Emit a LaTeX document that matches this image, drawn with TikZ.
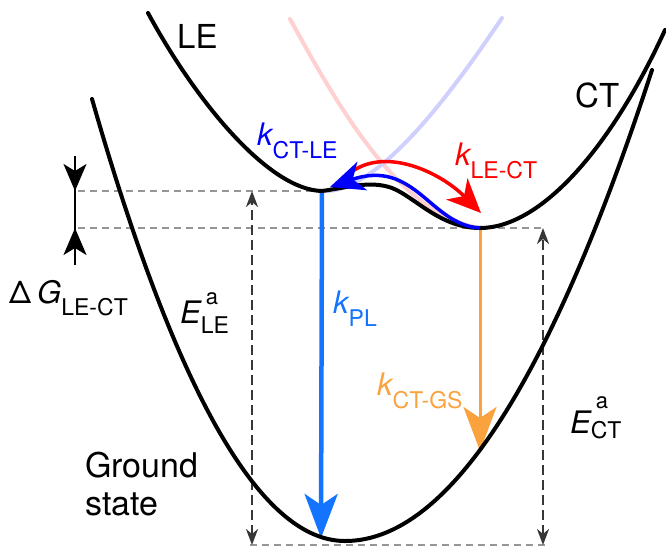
\documentclass[tikz,border=0pt]{standalone}
\usepackage{fontspec}
\setmainfont{TeX Gyre Heros}
\usetikzlibrary{arrows.meta}
\definecolor{plblue}{RGB}{20,115,255}
\definecolor{ctorange}{RGB}{250,162,62}
\definecolor{fpink}{RGB}{255,208,208}
\definecolor{fblue}{RGB}{208,208,255}
\definecolor{lgray}{RGB}{150,150,150}
\definecolor{dgray}{RGB}{55,55,55}
\newcommand\bigf{\fontsize{31}{37}\selectfont}
\newcommand\subf{\fontsize{23}{23}\selectfont}
\newcommand\supf{\fontsize{22}{22}\selectfont}
\newcommand\ksub[2]{{\bigf\itshape #1}\raisebox{-13pt}{\subf #2}}
\newcommand\esym[3]{{\bigf\itshape E}\rlap{\kern5pt\raisebox{#2}{\supf a}}\raisebox{#3}{\subf #1}}
\begin{document}
\begin{tikzpicture}[x=1pt,y=-1pt,
  blk/.style={line width=4pt, line cap=round},
  faint/.style={line width=4pt, line cap=round},
  guide/.style={lgray, line width=2.5pt, dash pattern=on 7pt off 5pt},
  energy/.style={dgray, line width=2.5pt, dash pattern=on 10pt off 5pt,
    arrows={Stealth[length=16pt,width=12pt,inset=5pt]-Stealth[length=16pt,width=12pt,inset=5pt]}},
  lbl/.style={inner sep=0pt, anchor=base west}]
\useasboundingbox (0,0) rectangle (666,547);
% key points
\coordinate (LEmin) at (322,191);
\coordinate (CTmin) at (480,228);
\coordinate (PLend) at (321,538);
\coordinate (GSend) at (480,451);
\coordinate (pinkTop) at (290,19);
\coordinate (fblueTop) at (502,18);
\coordinate (exTop) at (148,13);
\coordinate (exRight) at (665,30);
\coordinate (hump) at (392,188);
\coordinate (gLeftA) at (78,191);
\coordinate (gLeftB) at (78,228);
\coordinate (gRightB) at (545,228);
\coordinate (gBotL) at (250,545);
\coordinate (gBotR) at (545,545);
\coordinate (eLtop) at (252,191);
\coordinate (eLbot) at (252,545);
\coordinate (eRtop) at (543,228);
\coordinate (eRbot) at (543,545);
\coordinate (dGtop) at (75,156);
\coordinate (dGa) at (75,191);
\coordinate (dGb) at (75,228);
\coordinate (dGbot) at (75,265);
\coordinate (redStart) at (350,173);
\coordinate (redEnd) at (481,213);
\coordinate (blueEnd) at (330,187);
% faint diabatic curves
\draw[faint, fpink] (pinkTop) .. controls (340,110) and (400,215) .. (CTmin);
\draw[faint, fblue] (LEmin) .. controls (380,195) and (460,80) .. (fblueTop);
% guides
\draw[guide] (gLeftA) -- (LEmin);
\draw[guide] (gLeftB) -- (gRightB);
\draw[guide] (gBotL) -- (gBotR);
\draw[energy] (eLbot) -- (eLtop);
\draw[energy] (eRbot) -- (eRtop);
% Delta G marker
\draw[line width=2pt] (dGtop) -- (dGbot);
\draw[line width=2pt, -{Stealth[length=27pt,width=23pt,inset=7pt]}] (dGtop) -- (dGa);
\draw[line width=2pt, -{Stealth[length=27pt,width=23pt,inset=7pt]}] (dGbot) -- (dGb);
% vertical transitions
\draw[line width=4.5pt, plblue, -{Stealth[length=44pt,width=33pt,inset=11pt]}] (LEmin) -- (PLend);
\draw[line width=3pt, ctorange, -{Stealth[length=44pt,width=33pt,inset=11pt]}] (CTmin) -- (GSend);
% ground state
\draw[blk] plot[domain=92:345, samples=60, smooth] (\x, {541-((\x-345)*0.0831)^2})
  -- plot[domain=345:652, samples=60, smooth] (\x, {541-((\x-345)*0.0707)^2});
% excited state
\draw[blk] (exTop) .. controls (198,105) and (270,190) .. (LEmin)
  .. controls (345,188) and (370,180) .. (hump)
  .. controls (415,197) and (440,228) .. (CTmin)
  .. controls (540,228) and (610,150) .. (exRight);
% LE <-> CT arrows
\draw[line width=3.5pt, red, -{Stealth[length=34pt,width=30pt,inset=10pt]}] (redStart) .. controls (385,146) and (440,172) .. (redEnd);
\draw[line width=3.5pt, blue, -{Stealth[length=34pt,width=30pt,inset=10pt]}] (CTmin) .. controls (430,225) and (415,158) .. (blueEnd);
% labels
\node[lbl] (tLE) at (177,48) {\fontsize{33}{33}\selectfont LE};
\node[lbl] (tCT) at (575,107) {\fontsize{33}{33}\selectfont CT};
\node[lbl, align=left, font={\fontsize{34}{38}\selectfont}] (tGS) at (85,515) {Ground\\state};
\node[lbl, blue] (kctle) at (257,145) {\ksub{k}{CT-LE}};
\node[lbl, red] (klect) at (455,165) {\ksub{k}{LE-CT}};
\node[lbl, plblue] (kpl) at (333,313) {\ksub{k}{PL}};
\node[lbl, ctorange] (kctgs) at (377,395) {\ksub{k}{CT-GS}};
\node[lbl] (dG) at (9,303) {\bigf Δ\hspace{6pt}{\itshape G}\raisebox{-12pt}{\subf LE-CT}};
\node[lbl] (ELE) at (180,323) {\esym{LE}{19pt}{-10pt}};
\node[lbl] (ECT) at (570,433) {\esym{CT}{25pt}{-5pt}};
\end{tikzpicture}
\end{document}
